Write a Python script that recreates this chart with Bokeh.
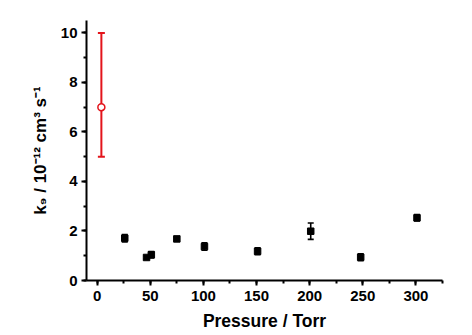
from bokeh.plotting import figure
from bokeh.models import (ColumnDataSource, Whisker, TeeHead,
                          SingleIntervalTicker)
from bokeh.embed import file_html
from bokeh.resources import INLINE

# Measured rate constants k9 (1e-12 cm^3 s^-1) versus pressure (Torr)
pressure = [26, 46.5, 51, 75, 101, 151, 201, 248, 301]
k9 = [1.71, 0.93, 1.04, 1.68, 1.37, 1.18, 1.99, 0.94, 2.53]
k9_err = [0.15, 0.06, 0.13, 0.07, 0.15, 0.14, 0.33, 0.14, 0.13]

# Low-pressure value with its asymmetric range
ref_pressure = [4]
ref_k9 = [7.0]
ref_lower = [5.0]
ref_upper = [10.0]

x_label = "Pressure / Torr"
y_label = "k\u2089 / 10\u207b\u00b9\u00b2 cm\u00b3 s\u207b\u00b9"

FONT = "Liberation Sans"
RED = "#e3141b"

p = figure(width=472, height=335, x_range=(-10, 325), y_range=(0, 10.5),
           output_backend="svg", toolbar_location=None,
           min_border_left=86, min_border_right=30,
           min_border_top=20, min_border_bottom=55)
p.outline_line_color = None
p.xgrid.visible = False
p.ygrid.visible = False

p.xaxis.ticker = SingleIntervalTicker(interval=50, num_minor_ticks=2)
p.yaxis.ticker = SingleIntervalTicker(interval=2, num_minor_ticks=2)
for ax in (p.xaxis, p.yaxis):
    ax.axis_line_width = 2
    ax.axis_line_color = "black"
    ax.major_tick_line_width = 2
    ax.minor_tick_line_width = 2
    ax.major_tick_line_color = "black"
    ax.minor_tick_line_color = "black"
    ax.major_tick_in = 0
    ax.major_tick_out = 5
    ax.minor_tick_in = 0
    ax.minor_tick_out = 3
    ax.major_label_text_font = FONT
    ax.major_label_text_font_style = "bold"
    ax.major_label_text_font_size = "15px"
    ax.major_label_text_color = "black"
    ax.axis_label_text_font = FONT
    ax.axis_label_text_font_style = "bold"
    ax.axis_label_text_color = "black"
p.xaxis.major_label_standoff = 5
p.yaxis.major_label_standoff = 4

p.xaxis.axis_label = x_label
p.xaxis.axis_label_text_font_size = "17.5px"
p.xaxis.axis_label_standoff = 7

p.yaxis.axis_label = y_label
p.yaxis.axis_label_text_font_size = "17px"
p.yaxis.axis_label_standoff = 8

# data points with symmetric error bars
src = ColumnDataSource(dict(
    x=pressure, y=k9,
    lo=[v - e for v, e in zip(k9, k9_err)],
    hi=[v + e for v, e in zip(k9, k9_err)],
))
p.add_layout(Whisker(source=src, base="x", lower="lo", upper="hi",
                     line_color="black", line_width=1.6,
                     upper_head=TeeHead(size=6, line_width=1.6, line_color="black"),
                     lower_head=TeeHead(size=6, line_width=1.6, line_color="black")))
p.scatter("x", "y", source=src, marker="square", size=6.5,
          fill_color="black", line_color="black")

# low-pressure estimate in red
ref_src = ColumnDataSource(dict(x=ref_pressure, y=ref_k9,
                                lo=ref_lower, hi=ref_upper))
p.add_layout(Whisker(source=ref_src, base="x", lower="lo", upper="hi",
                     line_color=RED, line_width=2,
                     upper_head=TeeHead(size=7, line_width=2, line_color=RED),
                     lower_head=TeeHead(size=7, line_width=2, line_color=RED)))
p.scatter("x", "y", source=ref_src, marker="circle", size=7,
          fill_color="white", line_color=RED, line_width=1.5)

open("out.html", "w").write(file_html(p, INLINE))
